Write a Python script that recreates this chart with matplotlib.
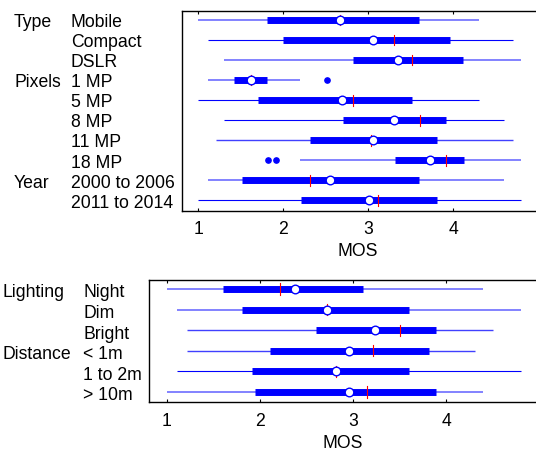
import matplotlib
matplotlib.use("Agg")
import matplotlib.pyplot as plt
import matplotlib.transforms as mtransforms

plt.rcParams['font.family'] = ['Liberation Sans', 'DejaVu Sans']
FS = 12.7

# ---------------- data: top panel ----------------
top_groups = ["Type", "", "", "Pixels", "", "", "", "", "Year", ""]
top_labels = ["Mobile", "Compact", "DSLR", "1 MP", "5 MP", "8 MP", "11 MP", "18 MP",
              "2000 to 2006", "2011 to 2014"]
top_wlo = [1.00, 1.11, 1.30, 1.11, 1.00, 1.30, 1.21, 2.20, 1.11, 1.00]
top_whi = [4.30, 4.70, 4.80, 2.20, 4.30, 4.60, 4.70, 4.80, 4.60, 4.80]
top_q1 = [1.81, 2.00, 2.82, 1.42, 1.70, 2.70, 2.31, 3.31, 1.51, 2.21]
top_q3 = [3.60, 3.96, 4.11, 1.81, 3.51, 3.91, 3.81, 4.13, 3.60, 3.81]
top_med = [2.67, 3.05, 3.35, 1.62, 2.69, 3.30, 3.05, 3.73, 2.55, 3.01]
top_mean = [2.67, 3.30, 3.51, 1.62, 2.82, 3.61, 3.03, 3.91, 2.31, 3.11]
top_out = [[], [], [], [2.51], [], [], [], [1.82, 1.91], [], []]

# ---------------- data: bottom panel ----------------
bot_groups = ["Lighting", "", "", "Distance", "", ""]
bot_labels = ["Night", "Dim", "Bright", "< 1m", "1 to 2m", "> 10m"]
bot_wlo = [1.00, 1.11, 1.21, 1.21, 1.11, 1.00]
bot_whi = [4.39, 4.80, 4.50, 4.31, 4.80, 4.39]
bot_q1 = [1.60, 1.81, 2.60, 2.11, 1.91, 1.95]
bot_q3 = [3.10, 3.60, 3.89, 3.81, 3.60, 3.89]
bot_med = [2.38, 2.72, 3.23, 2.96, 2.81, 2.95]
bot_mean = [2.21, 2.72, 3.50, 3.21, 2.81, 3.15]
bot_out = [[], [], [], [], [], []]

# whisker rendering shade per row (light / medium / dark)
top_shade = ["l", "d", "l", "l", "d", "d", "m", "l", "l", "d"]
bot_shade = ["l", "l", "m", "m", "d", "l"]

xticks = [1, 2, 3, 4]

W, H = 536, 451
fig = plt.figure(figsize=(W / 100, H / 100), dpi=100)

def px2fig(left, right, top, bottom):
    return [left / W, 1 - bottom / H, (right - left) / W, (bottom - top) / H]

ax1 = fig.add_axes(px2fig(181.7, 540, 10.7, 210.7))
ax2 = fig.add_axes(px2fig(149.3, 540, 280.0, 402.3))

shade_style = {"l": ("#7878ff", 1.3), "m": ("#4040ff", 1.0), "d": ("#0000ff", 0.8)}

def draw(ax, wlo, whi, q1, q3, med, mean, outs, shades, xlim, ylim):
    n = len(wlo)
    for i in range(n):
        c, lw = shade_style[shades[i]]
        ax.plot([wlo[i], whi[i]], [i, i], color=c, lw=lw, solid_capstyle='butt', zorder=2)
        ax.plot([q1[i], q3[i]], [i, i], color="#0000ff", lw=5.0, solid_capstyle='butt', zorder=3)
        ax.plot([mean[i], mean[i]], [i - 0.27, i + 0.27], color="red", lw=0.8, zorder=4)
        ax.plot([med[i]], [i], marker='o', ms=6.2, mfc='white', mec='#0000ff', mew=1.0,
                linestyle='none', zorder=5)
        if outs[i]:
            ax.plot(outs[i], [i] * len(outs[i]), marker='o', ms=3.8, mfc='#0000ff',
                    mec='#0000ff', linestyle='none', zorder=5)
    ax.set_xlim(*xlim)
    ax.set_ylim(*ylim)
    ax.set_xticks(xticks)
    ax.set_xticklabels([str(t) for t in xticks], fontsize=FS)
    ax.set_yticks([])
    ax.tick_params(axis='x', direction='in', length=2.5, width=0.8, top=True, pad=7.5)
    for s in ax.spines.values():
        s.set_linewidth(1.0)
        s.set_color('black')

draw(ax1, top_wlo, top_whi, top_q1, top_q3, top_med, top_mean, top_out, top_shade,
     (0.805, 5.02), (9.52, -0.464))
draw(ax2, bot_wlo, bot_whi, bot_q1, bot_q3, bot_med, bot_mean, bot_out, bot_shade,
     (0.81, 5.006), (5.5, -0.437))

ax1.set_xlabel("MOS", fontsize=FS, labelpad=3.5)
ax1.xaxis.label.set_x(0.4906)
ax2.set_xlabel("MOS", fontsize=FS, labelpad=3.5)
ax2.xaxis.label.set_x(0.495)

def row_labels(ax, groups, labels, xg, xl, off_px):
    base = mtransforms.blended_transform_factory(fig.transFigure, ax.transData)
    tr = mtransforms.offset_copy(base, fig=fig, x=0, y=-off_px, units='dots')
    for i, (g, l) in enumerate(zip(groups, labels)):
        if g:
            fig.text(xg / W, i, g, transform=tr, fontsize=FS, ha='left', va='baseline')
        fig.text(xl / W, i, l, transform=tr, fontsize=FS, ha='left', va='baseline')

row_labels(ax1, top_groups, top_labels, 14, 71, 7.3)
row_labels(ax2, bot_groups, bot_labels, 2.7, 83.3, 8.4)

fig.savefig("out.png", dpi=100)
